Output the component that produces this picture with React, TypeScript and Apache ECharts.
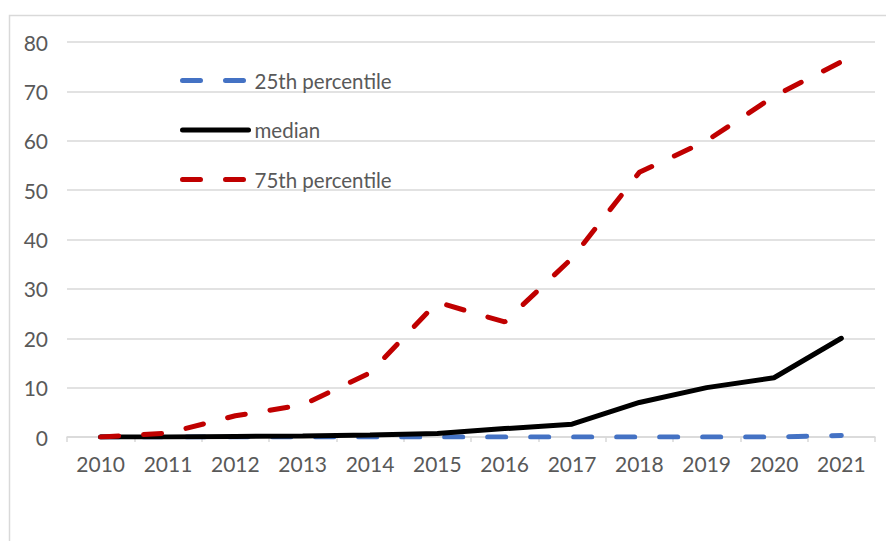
import React, { useEffect, useRef } from "react";
import * as echarts from "echarts";

const years = ["2010", "2011", "2012", "2013", "2014", "2015", "2016", "2017", "2018", "2019", "2020", "2021"];
const p25 = [0, 0, 0, 0, 0, 0, 0, 0, 0, 0, 0, 0.3];
const median = [0, 0, 0.1, 0.2, 0.4, 0.7, 1.7, 2.6, 7, 10, 12, 20];
const p75 = [0, 0.8, 4.3, 6.5, 13, 27.3, 23.3, 36.2, 53.6, 60, 69, 76];
const seriesNames = ["25th percentile", "median", "75th percentile"];

const FONT = "Lato";
const TEXT = "#595959";
const GRID = "#d9d9d9";

export default function App() {
  const ref = useRef<HTMLDivElement>(null);
  useEffect(() => {
    const chart = echarts.init(ref.current!, null, { renderer: "svg" });
    const dash = [18, 25];
    chart.setOption({
      animation: false,
      backgroundColor: "#ffffff",
      textStyle: { fontFamily: FONT },
      grid: { left: 67, right: 11, top: 42, bottom: 104 },
      graphic: [
        {
          type: "rect",
          shape: { x: 9.5, y: 15.5, width: 1000, height: 1000 },
          style: { fill: "none", stroke: GRID, lineWidth: 1.5 },
          z: -10,
        },
      ],
      legend: {
        orient: "vertical",
        left: 175,
        top: 65,
        itemWidth: 66,
        itemHeight: 14,
        itemGap: 28.5,
        data: seriesNames,
        itemStyle: { opacity: 0 },
        lineStyle: { width: 5, cap: "round" },
        textStyle: { color: TEXT, fontSize: 20.5, fontFamily: FONT, padding: [0, 0, 0, 1] },
      },
      xAxis: {
        type: "category",
        data: years,
        boundaryGap: true,
        axisLine: { show: true, lineStyle: { color: GRID, width: 1.5 } },
        axisTick: { show: true, length: 5, lineStyle: { color: GRID, width: 1.5 } },
        axisLabel: { color: TEXT, fontSize: 21, fontFamily: FONT, margin: 16 },
      },
      yAxis: {
        type: "value",
        min: 0,
        max: 80,
        interval: 10,
        axisLine: { show: false },
        axisTick: { show: false },
        axisLabel: { color: TEXT, fontSize: 21, fontFamily: FONT, margin: 19 },
        splitLine: { lineStyle: { color: GRID, width: 1.5 } },
      },
      series: [
        {
          name: seriesNames[0],
          type: "line",
          data: p25,
          symbol: "none",
          color: "#4472c4",
          lineStyle: { color: "#4472c4", width: 5, type: dash, cap: "round" },
          z: 2,
        },
        {
          name: seriesNames[1],
          type: "line",
          data: median,
          symbol: "none",
          color: "#000000",
          lineStyle: { color: "#000000", width: 5, type: "solid", cap: "round" },
          z: 3,
        },
        {
          name: seriesNames[2],
          type: "line",
          data: p75,
          symbol: "none",
          color: "#c00000",
          lineStyle: { color: "#c00000", width: 5, type: dash, cap: "round" },
          z: 4,
        },
      ],
    });
    return () => chart.dispose();
  }, []);
  return (
    <div
      ref={ref}
      style={{ position: "absolute", left: 0, top: 0, width: 886, height: 541 }}
    />
  );
}
